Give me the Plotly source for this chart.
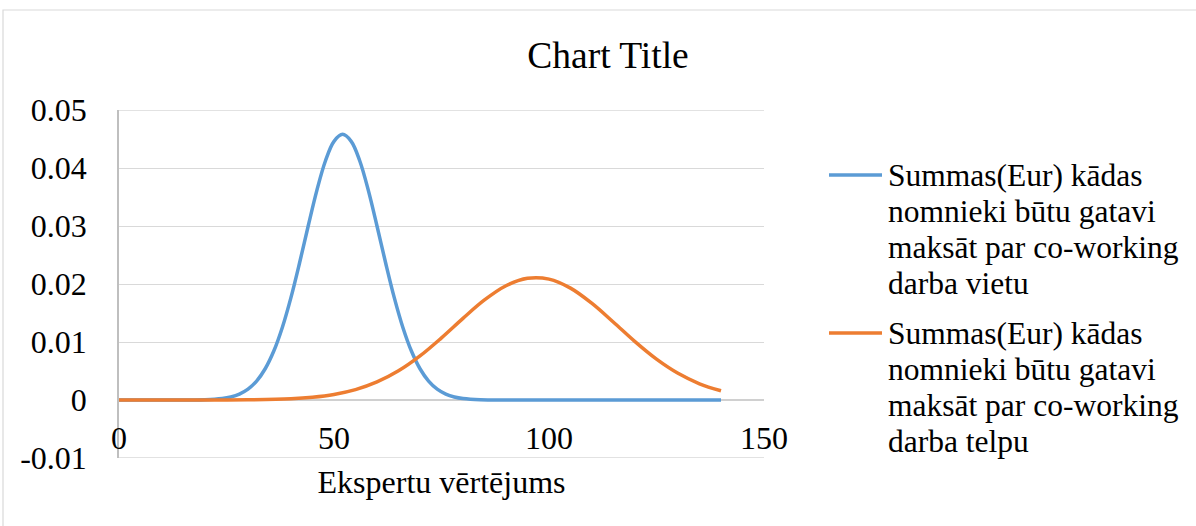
import plotly.graph_objects as go

# Expert valuation (EUR) on the x axis, estimated density on the y axis
vietu_x = [0, 10, 20, 24, 26, 28, 30, 32, 34, 36, 38, 40, 42, 44, 46, 48, 50, 52, 54, 56,
           58, 60, 62, 64, 66, 68, 70, 72, 74, 76, 78, 80, 84, 90, 100, 110, 120, 130, 140]
vietu_y = [0, 0, 0.00005, 0.00026, 0.00053, 0.00102, 0.00187, 0.00326, 0.00539, 0.00844,
           0.01255, 0.01769, 0.02366, 0.0300, 0.0361, 0.04121, 0.0446, 0.0458, 0.0446,
           0.04121, 0.0361, 0.0300, 0.02366, 0.01769, 0.01255, 0.00844, 0.00539, 0.00326,
           0.00187, 0.00102, 0.00053, 0.00026, 0.00005, 0, 0, 0, 0, 0, 0]

telpu_x = [0, 10, 20, 30, 40, 45, 50, 55, 60, 65, 70, 75, 80, 85, 90, 95, 100, 105,
           110, 115, 120, 125, 130, 135, 140]
telpu_y = [0, 0, 0.00001, 0.00004, 0.00022, 0.00048, 0.00096, 0.00179, 0.00311, 0.00503,
           0.0076, 0.01072, 0.01408, 0.01725, 0.0197, 0.02098, 0.02084, 0.01929, 0.01665,
           0.01341, 0.01006, 0.00704, 0.0046, 0.0028, 0.00159]

series_names = [
    "Summas(Eur) kādas nomnieki būtu gatavi maksāt par co-working darba vietu",
    "Summas(Eur) kādas nomnieki būtu gatavi maksāt par co-working darba telpu",
]
legend_lines = [
    ["Summas(Eur) kādas", "nomnieki būtu gatavi", "maksāt par co-working", "darba vietu"],
    ["Summas(Eur) kādas", "nomnieki būtu gatavi", "maksāt par co-working", "darba telpu"],
]
x_ticks = [0, 50, 100, 150]
y_ticks = [-0.01, 0, 0.01, 0.02, 0.03, 0.04, 0.05]
y_tick_text = ["-0.01", "0", "0.01", "0.02", "0.03", "0.04", "0.05"]

COLORS = ["#5B9BD5", "#ED7D31"]
FONT = "Liberation Serif, Times New Roman, serif"
GRID = "#d9d9d9"
W, H = 1196, 526
L, R, T, B = 119, 432, 110, 68
PW, PH = W - L - R, H - T - B


def px_to_paper(px, py):
    return (px - L) / PW, (H - B - py) / PH


fig = go.Figure()
for xs, ys, name, col in [(vietu_x, vietu_y, series_names[0], COLORS[0]),
                          (telpu_x, telpu_y, series_names[1], COLORS[1])]:
    fig.add_trace(go.Scatter(
        x=xs, y=ys, name=name, mode="lines",
        line=dict(color=col, width=3.5, shape="spline", smoothing=1.0),
        showlegend=False,
    ))

# Chart-area frame
x0, y0 = px_to_paper(3, 10)
x1, y1 = px_to_paper(1205, 535)
shapes = [dict(type="rect", xref="paper", yref="paper", x0=x0, y0=y1, x1=x1, y1=y0,
               line=dict(color=GRID, width=1.2), fillcolor="rgba(0,0,0,0)",
               layer="below")]

# Gridlines on the outer edges of the value range
for yv in (y_ticks[0], y_ticks[-1]):
    shapes.append(dict(type="line", xref="paper", yref="y", x0=0, x1=1, y0=yv, y1=yv,
                       line=dict(color=GRID, width=1.3), layer="below"))

annotations = []
# Legend: line samples and wrapped entry text
entry_tops = [175, 333]
for i, lines in enumerate(legend_lines):
    sx0, sy = px_to_paper(829, entry_tops[i])
    sx1, _ = px_to_paper(882, entry_tops[i])
    shapes.append(dict(type="line", xref="paper", yref="paper", x0=sx0, x1=sx1,
                       y0=sy, y1=sy, line=dict(color=COLORS[i], width=3.5)))
    for j, txt in enumerate(lines):
        tx, ty = px_to_paper(886, entry_tops[i] + 36 * j)
        annotations.append(dict(text=txt, xref="paper", yref="paper", x=tx, y=ty,
                                xanchor="left", yanchor="middle", showarrow=False,
                                font=dict(family=FONT, size=31.5, color="#000000")))

fig.update_layout(
    width=W, height=H,
    margin=dict(l=L, r=R, t=T, b=B, autoexpand=False),
    paper_bgcolor="#ffffff", plot_bgcolor="#ffffff",
    font=dict(family=FONT, size=32, color="#000000"),
    title=dict(text="Chart Title", x=608 / W, xanchor="center", xref="container",
               y=1 - 55 / H, yanchor="middle", yref="container",
               font=dict(family=FONT, size=37.5, color="#000000")),
    showlegend=False,
    shapes=shapes,
    annotations=annotations,
    xaxis=dict(
        range=[0, 150], tickvals=x_ticks, ticktext=[str(v) for v in x_ticks],
        showgrid=False, zeroline=False, showline=False, ticks="",
        ticklabelposition="inside", ticklabeloverflow="allow",
        tickfont=dict(family=FONT, size=32, color="#000000"),
        title=dict(text="Ekspertu vērtējums", standoff=16,
                   font=dict(family=FONT, size=32, color="#000000")),
    ),
    yaxis=dict(
        range=[-0.01, 0.05], tickvals=y_ticks, ticktext=y_tick_text,
        showgrid=True, gridcolor=GRID, gridwidth=1.3,
        zeroline=True, zerolinecolor="#d0d0d0", zerolinewidth=1.5,
        showline=True, linecolor="#bfbfbf", linewidth=1.5, mirror=False,
        ticks="", ticklabelstandoff=24,
        tickfont=dict(family=FONT, size=32, color="#000000"),
    ),
)

fig.write_html("out.html")
